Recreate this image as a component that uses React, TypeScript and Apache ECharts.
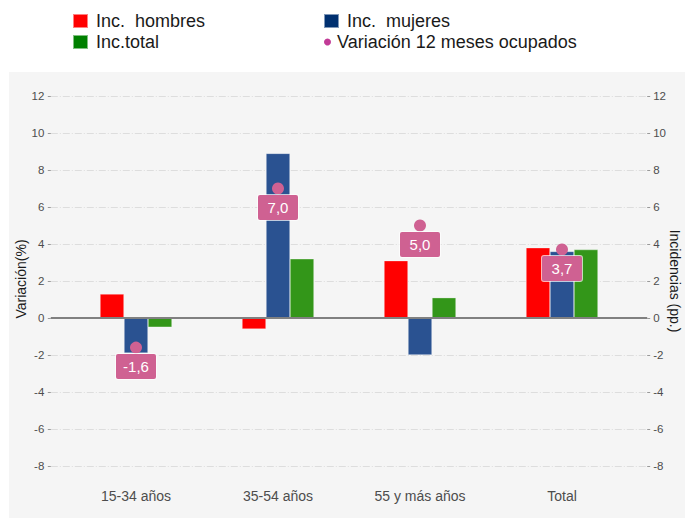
import React, { useEffect, useRef } from "react";
import * as echarts from "echarts";

const categories = ["15-34 años", "35-54 años", "55 y más años", "Total"];
const incHombres = [1.3, -0.6, 3.1, 3.8];
const incMujeres = [-1.9, 8.9, -2.0, 3.6];
const incTotal = [-0.5, 3.2, 1.1, 3.7];
const variacionOcupados = [-1.6, 7.0, 5.0, 3.7];

const leftTitle = "Variación(%)";
const rightTitle = "Incidencias (pp.)";

const FONT = "'Liberation Sans', Arial, sans-serif";
const TICK_COLOR = "#4d4d4d";

function toXY(values: number[]) {
  return values.map((v, i) => [i + 1, v]);
}

export default function App() {
  const ref = useRef<HTMLDivElement>(null);
  useEffect(() => {
    if (!ref.current) return;
    const chart = echarts.init(ref.current, null, { renderer: "svg" });

    const barBase = {
      type: "bar",
      barWidth: 24,
      barGap: "0%",
      xAxisIndex: 0,
      yAxisIndex: 0,
    };

    const yAxisCommon = {
      type: "value",
      min: -8,
      max: 12,
      interval: 2,
      axisLine: { show: false },
      axisTick: { show: true, length: 3, lineStyle: { color: "#999999" } },
    };

    const legendText = { fontFamily: FONT, fontSize: 18, color: "#1a1a1a", padding: [0, 0, 0, 3] };

    const option: any = {
      animation: false,
      backgroundColor: "#ffffff",
      textStyle: { fontFamily: FONT },
      graphic: [
        {
          type: "rect",
          z: -100,
          silent: true,
          shape: { x: 9, y: 72, width: 676, height: 446 },
          style: { fill: "#f5f5f5" },
        },
        {
          type: "text",
          x: 21,
          y: 279,
          rotation: Math.PI / 2,
          silent: true,
          style: {
            text: leftTitle,
            fontFamily: FONT,
            fontSize: 14,
            fill: "#1a1a1a",
            align: "center",
            verticalAlign: "middle",
          },
        },
        {
          type: "text",
          x: 675,
          y: 281,
          rotation: -Math.PI / 2,
          silent: true,
          style: {
            text: rightTitle,
            fontFamily: FONT,
            fontSize: 14,
            fill: "#1a1a1a",
            align: "center",
            verticalAlign: "middle",
          },
        },
      ],
      legend: [
        {
          left: 72,
          top: 12,
          padding: 0,
          selectedMode: false,
          itemWidth: 15,
          itemHeight: 14,
          icon: "rect",
          textStyle: legendText,
          data: [{ name: "Inc.  hombres", itemStyle: { color: "#ff0000" } }],
        },
        {
          left: 323,
          top: 12,
          padding: 0,
          selectedMode: false,
          itemWidth: 15,
          itemHeight: 14,
          icon: "rect",
          textStyle: legendText,
          data: [{ name: "Inc.  mujeres", itemStyle: { color: "#003070" } }],
        },
        {
          left: 72,
          top: 33,
          padding: 0,
          selectedMode: false,
          itemWidth: 15,
          itemHeight: 14,
          icon: "rect",
          textStyle: legendText,
          data: [{ name: "Inc.total", itemStyle: { color: "#008000" } }],
        },
        {
          left: 324,
          top: 33,
          padding: 0,
          selectedMode: false,
          itemWidth: 7,
          itemHeight: 7,
          icon: "circle",
          textStyle: { ...legendText, padding: [0, 0, 0, 1] },
          data: [{ name: "Variación 12 meses ocupados", itemStyle: { color: "#c23b97", opacity: 1 } }],
        },
      ],
      grid: {
        left: 50.8,
        right: 37.8,
        top: 96,
        bottom: 52,
        containLabel: false,
        outerBoundsMode: "none",
      },
      xAxis: {
        type: "value",
        min: 0.4,
        max: 4.6,
        splitLine: { show: false },
        axisLine: { show: false },
        axisTick: { show: false },
        axisLabel: {
          customValues: [1, 2, 3, 4],
          formatter: (v: number) => categories[Math.round(v) - 1] ?? "",
          color: TICK_COLOR,
          fontFamily: FONT,
          fontSize: 14,
          margin: 23,
        },
      },
      yAxis: [
        {
          ...yAxisCommon,
          position: "left",
          splitLine: {
            show: true,
            lineStyle: { color: "#dddddd", width: 1, type: [7, 2, 1, 2] },
          },
          axisLabel: { color: TICK_COLOR, fontFamily: FONT, fontSize: 11.5, margin: 6.5 },
        },
        {
          ...yAxisCommon,
          position: "right",
          splitLine: { show: false },
          axisLabel: { color: TICK_COLOR, fontFamily: FONT, fontSize: 11.5, margin: 6 },
        },
      ],
      series: [
        {
          ...barBase,
          name: "Inc.  hombres",
          data: toXY(incHombres),
          itemStyle: { color: "#ff0000", borderColor: "rgba(255,255,255,0.5)", borderWidth: 0.6 },
          markLine: {
            silent: true,
            symbol: "none",
            label: { show: false },
            lineStyle: { color: "#808080", width: 2, type: "solid" },
            data: [{ yAxis: 0 }],
          },
        },
        {
          ...barBase,
          name: "Inc.  mujeres",
          data: toXY(incMujeres),
          itemStyle: { color: "#2a5291", borderColor: "rgba(255,255,255,0.5)", borderWidth: 0.6 },
        },
        {
          ...barBase,
          name: "Inc.total",
          data: toXY(incTotal),
          itemStyle: { color: "#339619", borderColor: "rgba(255,255,255,0.5)", borderWidth: 0.6 },
        },
        {
          type: "scatter",
          name: "Variación 12 meses ocupados",
          data: toXY(variacionOcupados),
          symbol: "circle",
          symbolSize: 12,
          z: 5,
          itemStyle: { color: "#cf6192", opacity: 1 },
          label: {
            show: true,
            position: "inside",
            offset: [0, 19],
            formatter: (p: any) => p.value[1].toFixed(1).replace(".", ","),
            color: "#ffffff",
            fontFamily: FONT,
            fontSize: 15,
            lineHeight: 15,
            width: 40,
            align: "center",
            padding: [5, 0],
            backgroundColor: "#cf6192",
            borderColor: "rgba(255,255,255,0.7)",
            borderWidth: 1,
            borderRadius: 2,
          },
        },
      ],
    };

    chart.setOption(option);
    return () => chart.dispose();
  }, []);

  return (
    <div
      ref={ref}
      style={{ position: "fixed", left: 0, top: 0, width: 685, height: 518 }}
    />
  );
}
